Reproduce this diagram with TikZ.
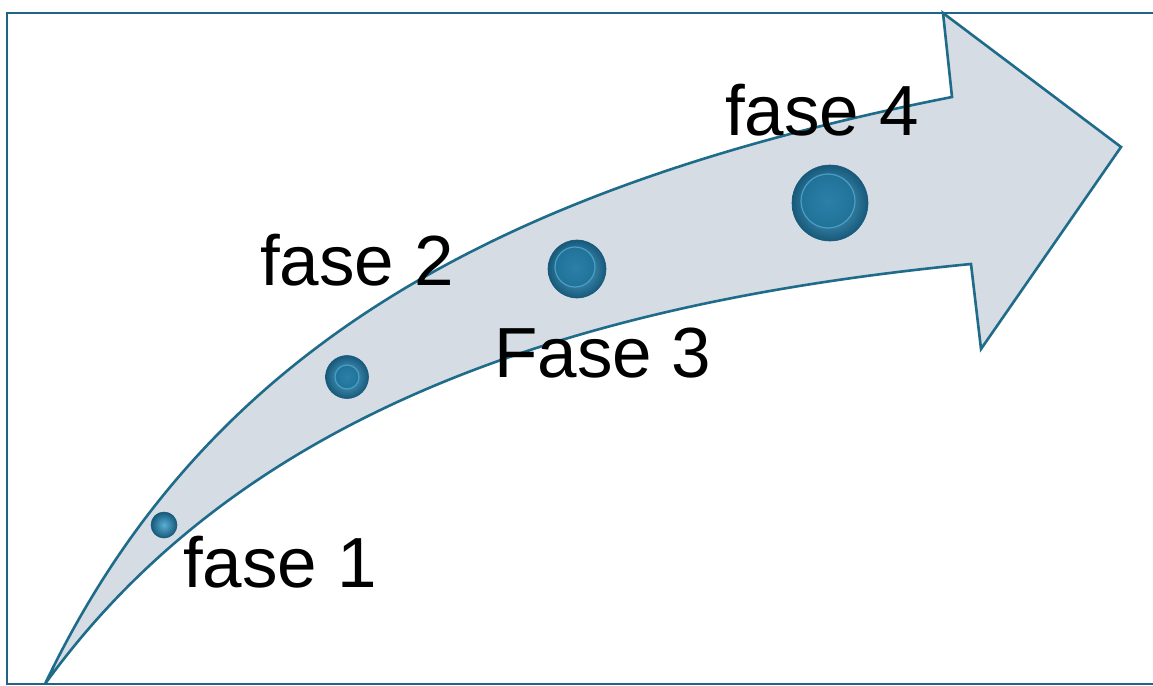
\documentclass[tikz,border=0pt]{standalone}
\usepackage{fontspec}
\setmainfont{Liberation Sans}
\definecolor{framecol}{HTML}{1F6587}
\definecolor{arrowfill}{HTML}{D5DCE4}
\definecolor{arrowline}{HTML}{1F6B8A}
\definecolor{balldark}{HTML}{17597A}
\definecolor{ballmid}{HTML}{2378A0}
\definecolor{balllight}{HTML}{5AAFD6}
\tikzset{
  framestyle/.style={draw=framecol, line width=2.8pt},
  arrowstyle/.style={draw=arrowline, fill=arrowfill, line width=2.6pt, line join=miter},
  phaselabel/.style={anchor=base west, inner sep=0pt, font=\fontsize{71}{84}\selectfont, text=black},
  sphere/.style={circle, inner sep=0pt, minimum size=#1, draw=balldark, line width=0.6pt,
    inner color=balllight, outer color=balldark},
  knob/.style={circle, inner sep=0pt, minimum size=#1, draw=balllight!70!ballmid, line width=1.2pt,
    inner color=ballmid!85!balllight, outer color=ballmid!80!balldark},
}
\begin{document}
\begin{tikzpicture}[x=1pt, y=-1pt]
\useasboundingbox (0,0) rectangle (1153,685);
\fill[white] (0,0) rectangle (1153,685);
% frame
\draw[framestyle] (1160,13) -- (7,13) -- (7,684) -- (1160,684);
% arrow
\coordinate (tail) at (45,684);
\draw[arrowstyle] (tail) .. controls (200,360) and (480,190) .. (952,97)
  -- (943,13) -- (1121,147) -- (981,349) -- (971,264)
  .. controls (600,300) and (250,400) .. (tail) -- cycle;
% balls
\node[sphere=26pt] (b1) at (164,525) {};
\node[sphere=43pt] (b2) at (347,377) {};
\node[knob=24pt] at (b2) {};
\node[sphere=58pt] (b3) at (577,269) {};
\node[knob=40pt] (k3) at (575,267) {};
\node[sphere=76pt] (b4) at (830,203) {};
\node[knob=54pt] (k4) at (828,201) {};
% labels
\node[phaselabel] (t1) at (183,587) {fase 1};
\node[phaselabel] (t2) at (260,285) {fase 2};
\node[phaselabel] (t3) at (494,377) {Fase 3};
\node[phaselabel] (t4) at (725,135) {fase 4};
\end{tikzpicture}
\end{document}
